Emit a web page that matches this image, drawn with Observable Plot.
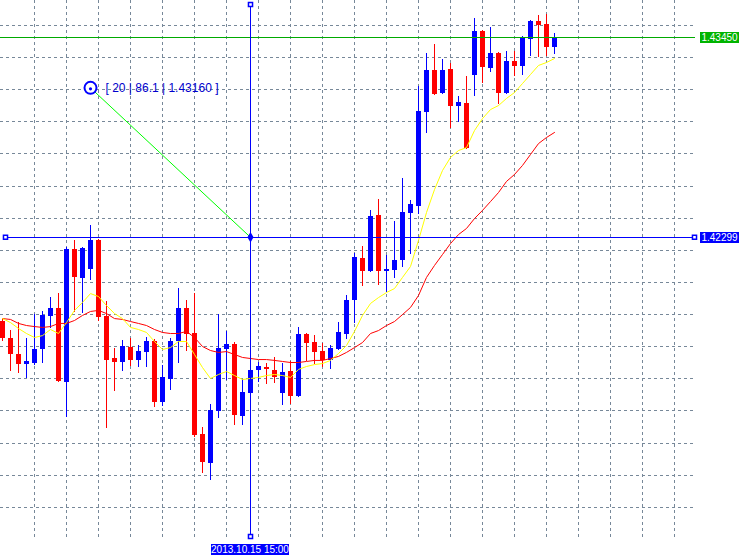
<!DOCTYPE html>
<html><head><meta charset="utf-8">
<script src="https://cdn.jsdelivr.net/npm/d3@7"></script>
<script src="https://cdn.jsdelivr.net/npm/@observablehq/plot@0.6"></script>
<style>body{margin:0;background:#fff}#chart svg{display:block}</style>
</head><body><div id="chart"></div>
<script>
// EURUSD H1 style candles (bar index 0..69)
const opens = [1.41814,1.41716,1.41624,1.41566,1.41572,1.41653,1.41843,1.41889,1.41463,1.42229,
1.42062,1.42114,1.42281,1.41843,1.41601,1.41578,1.41664,1.41590,1.41636,1.41699,
1.41348,1.41480,1.41699,1.41889,1.41745,1.41163,1.40996,1.41296,1.41653,1.41682,
1.41267,1.41399,1.41532,1.41549,1.41532,1.41399,1.41526,1.41382,1.41739,1.41693,
1.41641,1.41590,1.41653,1.41739,1.41935,1.42177,1.42102,1.42425,1.42102,1.42108,
1.42166,1.42436,1.42477,1.43018,1.43260,1.43127,1.43266,1.43053,1.43070,1.43231,
1.43485,1.43271,1.43358,1.43127,1.43312,1.43283,1.43438,1.43542,1.43525,1.43392];
const highs = [1.41831,1.41762,1.41808,1.41716,1.41854,1.41872,1.41952,1.41975,1.42240,1.42281,
1.42240,1.42367,1.42286,1.41929,1.41659,1.41705,1.41716,1.41676,1.41722,1.41710,
1.41561,1.41716,1.42004,1.41935,1.41975,1.41204,1.41336,1.41854,1.41757,1.41693,
1.41480,1.41538,1.41578,1.41572,1.41607,1.41572,1.41584,1.41780,1.41745,1.41733,
1.41687,1.41676,1.41808,1.41964,1.42206,1.42246,1.42454,1.42517,1.42194,1.42390,
1.42638,1.42511,1.43168,1.43358,1.43410,1.43323,1.43300,1.43110,1.43225,1.43559,
1.43490,1.43508,1.43364,1.43369,1.43369,1.43456,1.43548,1.43577,1.43582,1.43473];
const lows = [1.41699,1.41526,1.41515,1.41486,1.41561,1.41572,1.41774,1.41463,1.41261,1.41866,
1.41860,1.42050,1.41814,1.41198,1.41411,1.41526,1.41555,1.41549,1.41549,1.41319,
1.41325,1.41417,1.41572,1.41641,1.41146,1.40939,1.40898,1.41255,1.41474,1.41215,
1.41215,1.41394,1.41463,1.41451,1.41457,1.41330,1.41336,1.41376,1.41584,1.41566,
1.41549,1.41538,1.41647,1.41710,1.41803,1.42016,1.42096,1.42022,1.41981,1.42062,
1.42125,1.42200,1.42430,1.42897,1.43116,1.43122,1.42926,1.42960,1.42805,1.43110,
1.43185,1.43248,1.43064,1.43122,1.43225,1.43231,1.43341,1.43335,1.43341,1.43352];
const closes = [1.41716,1.41624,1.41566,1.41584,1.41653,1.41849,1.41889,1.41469,1.42229,1.42068,
1.42235,1.42281,1.41837,1.41590,1.41578,1.41670,1.41590,1.41641,1.41699,1.41348,
1.41492,1.41699,1.41889,1.41739,1.41157,1.41002,1.41302,1.41659,1.41682,1.41273,
1.41405,1.41532,1.41555,1.41538,1.41492,1.41520,1.41382,1.41739,1.41687,1.41636,
1.41590,1.41659,1.41751,1.41935,1.42183,1.42102,1.42419,1.42102,1.42114,1.42166,
1.42442,1.42488,1.43024,1.43260,1.43122,1.43260,1.43053,1.43076,1.42811,1.43485,
1.43277,1.43358,1.43127,1.43312,1.43283,1.43444,1.43542,1.43519,1.43392,1.43450];
// moving averages
const maFast = [1.41831,1.41808,1.41774,1.41745,1.41722,1.41733,1.41768,1.41745,1.41808,1.41878,
1.41924,1.41975,1.41958,1.41906,1.41860,1.41831,1.41780,1.41768,1.41751,1.41699,
1.41653,1.41664,1.41699,1.41699,1.41624,1.41549,1.41486,1.41509,1.41526,1.41503,
1.41480,1.41486,1.41492,1.41503,1.41509,1.41503,1.41492,1.41538,1.41555,1.41566,
1.41572,1.41590,1.41630,1.41676,1.41757,1.41849,1.41918,1.41952,1.41981,1.42004,
1.42068,1.42131,1.42281,1.42442,1.42574,1.42684,1.42759,1.42799,1.42816,1.42914,
1.42983,1.43035,1.43058,1.43099,1.43133,1.43185,1.43237,1.43289,1.43306,1.43329];
const maSlow = [1.41831,1.41826,1.41803,1.41791,1.41785,1.41780,1.41785,1.41803,1.41803,1.41820,
1.41849,1.41872,1.41878,1.41860,1.41831,1.41826,1.41814,1.41803,1.41791,1.41768,
1.41751,1.41745,1.41745,1.41757,1.41722,1.41670,1.41647,1.41636,1.41641,1.41624,
1.41607,1.41601,1.41595,1.41595,1.41590,1.41584,1.41578,1.41578,1.41584,1.41590,
1.41590,1.41601,1.41613,1.41636,1.41664,1.41693,1.41745,1.41762,1.41791,1.41814,
1.41854,1.41895,1.41964,1.42068,1.42137,1.42200,1.42263,1.42315,1.42350,1.42407,
1.42454,1.42505,1.42557,1.42621,1.42661,1.42713,1.42776,1.42839,1.42874,1.42903];
const gridPrices = [1.43519,1.43334,1.43149,1.42964,1.42779,1.42594,1.42409,1.42224,
1.42039,1.41854,1.41669,1.41484,1.41299,1.41114,1.40929,1.40744];
const gridBars = [4,8,12,16,20,24,28,32,36,40,44,48,52,56,60,64,68,72,76,80,84];
const bidPrice = 1.43450, bidLabel = "1.43450";
const hLinePrice = 1.42299, hLineLabel = "1.42299";
const vLineBar = 31, vLineLabel = "2013.10.15 15:00";
const rulerBar = 11, rulerPrice = 1.43160, rulerText = "[ 20 | 86.1 | 1.43160 ]";

const candles = opens.map((o, i) => ({i, o, h: highs[i], l: lows[i], c: closes[i], up: closes[i] >= o}));
const fast = maFast.map((v, i) => ({i, v}));
const slow = maSlow.map((v, i) => ({i, v}));
const col = d => d.up ? "#0000ff" : "#ff0000";
const grid = "#778899";

const chart = Plot.plot({
  width: 750, height: 560,
  marginLeft: 0, marginRight: 55, marginTop: 0, marginBottom: 22,
  style: {background: "white", overflow: "visible", fontFamily: "Liberation Sans, Arial, sans-serif", fontSize: "12px"},
  x: {type: "linear", domain: [-0.25, 86.625], axis: null},
  y: {type: "linear", domain: [1.4056424, 1.4366312], axis: null},
  marks: [
    Plot.ruleY(gridPrices, {stroke: grid, strokeDasharray: "3,3", shapeRendering: "crispEdges"}),
    Plot.ruleX(gridBars, {stroke: grid, strokeDasharray: "3,3", shapeRendering: "crispEdges"}),
    Plot.ruleX(candles, {x: "i", y1: "l", y2: "h", stroke: col, shapeRendering: "crispEdges"}),
    Plot.rect(candles, {x1: d => d.i - 0.3125, x2: d => d.i + 0.3125, y1: "o", y2: "c", fill: col, shapeRendering: "crispEdges"}),
    Plot.line(slow, {x: "i", y: "v", stroke: "#ff0000", strokeWidth: 1}),
    Plot.line(fast, {x: "i", y: "v", stroke: "#ffff00", strokeWidth: 1}),
    Plot.ruleY([bidPrice], {stroke: "#00aa00", shapeRendering: "crispEdges"}),
    Plot.ruleY([hLinePrice], {stroke: "#0000ff", insetLeft: 5, insetRight: 1, shapeRendering: "crispEdges"}),
    Plot.ruleX([vLineBar], {stroke: "#0000ff", insetTop: 4, insetBottom: 2, shapeRendering: "crispEdges"}),
    Plot.link([{x1: rulerBar, y1: rulerPrice, x2: vLineBar, y2: hLinePrice}], {x1: "x1", y1: "y1", x2: "x2", y2: "y2", stroke: "#00ff00"}),
    Plot.dot([hLinePrice], {y: d => d, frameAnchor: "left", dx: 5, symbol: "square", r: 2.3, fill: "white", stroke: "#0000ff"}),
    Plot.dot([hLinePrice], {y: d => d, frameAnchor: "right", dx: -1, symbol: "square", r: 2.3, fill: "white", stroke: "#0000ff"}),
    Plot.dot([vLineBar], {x: d => d, frameAnchor: "top", dy: 4, symbol: "square", r: 2.3, fill: "white", stroke: "#0000ff"}),
    Plot.dot([vLineBar], {x: d => d, frameAnchor: "bottom", dy: -2, symbol: "square", r: 2.3, fill: "white", stroke: "#0000ff"}),
    Plot.dot([{x: vLineBar, y: hLinePrice}], {x: "x", y: "y", symbol: "diamond", r: 3.2, fill: "#0000ff"}),
    Plot.dot([{x: rulerBar, y: rulerPrice}], {x: "x", y: "y", r: 6, fill: "white", stroke: "#0000ff", strokeWidth: 2}),
    Plot.dot([{x: rulerBar, y: rulerPrice}], {x: "x", y: "y", r: 1.6, fill: "#0000ff", dy: 1}),
    Plot.text([rulerText], {x: rulerBar, y: rulerPrice, text: d => d, textAnchor: "start", dx: 15, fill: "#0000cc", fontSize: 12})
  ]
});
document.getElementById("chart").appendChild(chart);

const svg = d3.select(chart);
const ys = chart.scale("y"), xs = chart.scale("x");
function priceBox(p, label, fill) {
  const yc = Math.round(ys.apply(p));
  const g = svg.append("g");
  g.append("rect").attr("x", 700).attr("y", yc - 5).attr("width", 39).attr("height", 11).attr("fill", fill);
  g.append("text").attr("x", 719.5).attr("y", yc + 0.5).attr("dy", "0.35em").attr("text-anchor", "middle")
    .attr("fill", "white").attr("font-size", 10).attr("font-family", "Liberation Sans, Arial, sans-serif").text(label);
}
priceBox(bidPrice, bidLabel, "#00b400");
priceBox(hLinePrice, hLineLabel, "#0000ff");
const xc = Math.round(xs.apply(vLineBar));
const dg = svg.append("g");
dg.append("rect").attr("x", xc - 39).attr("y", 544).attr("width", 78).attr("height", 11).attr("fill", "#0000ff");
dg.append("text").attr("x", xc).attr("y", 549.5).attr("dy", "0.35em").attr("text-anchor", "middle")
  .attr("fill", "white").attr("font-size", 10).attr("font-family", "Liberation Sans, Arial, sans-serif").text(vLineLabel);
</script>
</body></html>
